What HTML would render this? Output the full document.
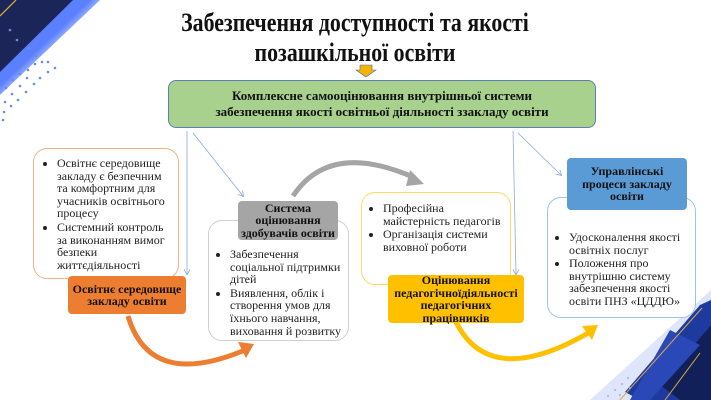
<!DOCTYPE html>
<html><head><meta charset="utf-8"><style>
body{margin:0;width:711px;height:400px;overflow:hidden;background:#fff;position:relative;font-family:"Liberation Serif",serif;}
.a{position:absolute;box-sizing:border-box;}
.t{font-weight:bold;text-align:center;color:#111;}
ul{margin:0;padding:0 0 0 15px;font-size:12px;line-height:12.6px;color:#222;}
li{margin:0 0 1px 0;}
.ob{border-radius:14px;background:#fff;}
.lb{border-radius:4px;font-weight:bold;text-align:center;font-size:12px;line-height:12.5px;display:flex;align-items:center;justify-content:center;color:#111;}
</style></head><body>
<svg class="a" style="left:0;top:0" width="711" height="400">
<defs>
<linearGradient id="g1" x1="0" y1="0" x2="1" y2="1"><stop offset="0.45" stop-color="#5a7fff"/><stop offset="0.75" stop-color="#fff" stop-opacity="0"/></linearGradient>
<marker id="ar" markerWidth="8" markerHeight="8" refX="6" refY="4" orient="auto"><path d="M0,0 L7,4 L0,8" fill="none" stroke="#8fa9dc" stroke-width="1"/></marker>
</defs>
<polygon points="0,0 100,0 0,95" fill="url(#g1)"/>
<polygon points="0,0 73,0 0,72" fill="#1b2557"/>
<line x1="0" y1="16" x2="16" y2="0" stroke="#e0b840" stroke-width="1.2"/>
<g fill="#6b8be8">
<circle cx="10" cy="30" r="1.3"/><circle cx="17" cy="40" r="1.3"/><circle cx="29" cy="48" r="1.3"/><circle cx="36" cy="56" r="1.3"/><circle cx="42" cy="62" r="1.3"/><circle cx="48" cy="62" r="1.3"/><circle cx="55" cy="68" r="1.3"/><circle cx="35" cy="64" r="1.3"/><circle cx="28" cy="70" r="1.3"/><circle cx="20" cy="74" r="1.3"/><circle cx="13" cy="80" r="1.3"/><circle cx="6" cy="88" r="1.3"/><circle cx="27" cy="78" r="1.3"/><circle cx="20" cy="86" r="1.3"/><circle cx="12" cy="94" r="1.3"/><circle cx="5" cy="102" r="1.3"/><circle cx="34" cy="84" r="1.3"/><circle cx="40" cy="78" r="1.3"/><circle cx="48" cy="72" r="1.3"/><circle cx="26" cy="92" r="1.3"/><circle cx="18" cy="100" r="1.3"/><circle cx="11" cy="106" r="1.3"/><circle cx="4" cy="112" r="1.3"/><circle cx="3" cy="120" r="1.3"/>
</g>
<polygon points="711,290 711,400 590,400" fill="#dfe6fb"/>
<polygon points="700,305 711,300 711,400 640,400 625,392" fill="#1e3a9e"/>
<polygon points="711,325 711,400 680,400 660,385" fill="#12205a"/>
<polygon points="670,330 700,345 650,400 630,400" fill="#2a48b8"/>
<line x1="702" y1="308" x2="620" y2="400" stroke="#d8a845" stroke-width="1"/>
<line x1="700" y1="353" x2="665" y2="400" stroke="#d8a845" stroke-width="1"/>
<g fill="#9ab0ee"><circle cx="615" cy="390" r="1"/><circle cx="622" cy="384" r="1"/><circle cx="628" cy="378" r="1"/><circle cx="608" cy="396" r="1"/><circle cx="620" cy="395" r="1"/><circle cx="630" cy="388" r="1"/></g>
<polygon points="360,65 372,65 372,70 376,70 366,77 356,70 360,70" fill="#f5b400" stroke="#4a6ab0" stroke-width="0.6"/>
<line x1="187" y1="131" x2="187" y2="274" stroke="#8fa9dc" stroke-width="0.8" marker-end="url(#ar)"/>
<line x1="193" y1="133" x2="243" y2="196" stroke="#8fa9dc" stroke-width="0.8" marker-end="url(#ar)"/>
<line x1="513" y1="131" x2="516" y2="274" stroke="#8fa9dc" stroke-width="0.8" marker-end="url(#ar)"/>
<line x1="518" y1="133" x2="561" y2="175" stroke="#8fa9dc" stroke-width="0.8" marker-end="url(#ar)"/>
<path d="M128,316 Q150,390 245,350" fill="none" stroke="#ed7d31" stroke-width="5"/>
<polygon points="254,344 238,342 246,358" fill="#ed7d31"/>
<path d="M293,196 Q330,140 415,178" fill="none" stroke="#a5a5a5" stroke-width="5"/>
<polygon points="424,184 410,170 406,186" fill="#a5a5a5"/>
<path d="M456,322 Q490,390 590,332" fill="none" stroke="#ffc000" stroke-width="5"/>
<polygon points="598,325 582,326 592,340" fill="#ffc000"/>
</svg>
<div class="a t" style="left:130px;top:8px;width:450px;font-size:26px;line-height:30px;transform:scaleX(0.84);">Забезпечення доступності та якості<br>позашкільної освіти</div>
<div class="a t" style="left:168px;top:80px;width:428px;height:48px;background:#a9d18e;border:1px solid #5b7fb5;border-radius:8px;font-size:13px;line-height:16px;padding-top:7px;">Комплексне самооцінювання внутрішньої системи<br>забезпечення якості освітньої діяльності ззакладу освіти</div>
<div class="a ob" style="left:33px;top:148px;width:146px;height:131px;border:1.2px solid #f4b183;padding:8px 4px 0 8px;"><ul><li>Освітнє середовище закладу є безпечним та комфортним для учасників освітнього процесу</li><li>Системний контроль за виконанням вимог безпеки життєдіяльності</li></ul></div>
<div class="a lb" style="left:68px;top:276px;width:118px;height:38px;background:#ed7d31;">Освітнє середовище<br>закладу освіти</div>
<div class="a ob" style="left:208px;top:220px;width:141px;height:121px;border:1.2px solid #cfcfcf;padding:27px 4px 0 6px;"><ul><li>Забезпечення соціальної підтримки дітей</li><li>Виявлення, облік і створення умов для їхнього навчання, виховання й розвитку</li></ul></div>
<div class="a lb" style="left:238px;top:201px;width:100px;height:39px;background:#a5a5a5;">Система<br>оцінювання<br>здобувачів освіти</div>
<div class="a ob" style="left:361px;top:192px;width:150px;height:93px;border:1.2px solid #ffd966;padding:9px 4px 0 6px;"><ul><li>Професійна майстерність педагогів</li><li>Організація системи виховної роботи</li></ul></div>
<div class="a lb" style="left:388px;top:275px;width:136px;height:48px;background:#ffc000;">Оцінювання<br>педагогічноїдіяльності<br>педагогічних<br>працівників</div>
<div class="a ob" style="left:547px;top:197px;width:149px;height:121px;border:1.2px solid #9dc3e6;padding:33px 4px 0 6px;"><ul><li>Удосконалення якості освітніх послуг</li><li>Положення про внутрішню систему забезпечення якості освіти ПНЗ «ЦДДЮ»</li></ul></div>
<div class="a lb" style="left:567px;top:158px;width:120px;height:52px;background:#5b9bd5;">Управлінські<br>процеси закладу<br>освіти</div>
</body></html>
